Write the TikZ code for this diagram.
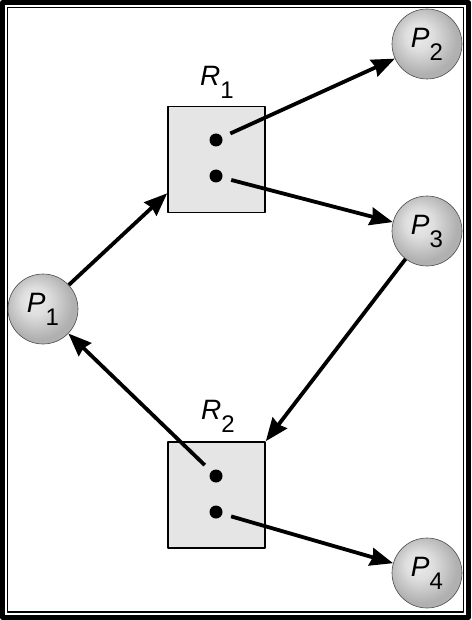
\documentclass[tikz,border=0pt]{standalone}
\usepackage{fontspec}
\setmainfont{Liberation Sans}
\usetikzlibrary{arrows.meta}
\pgfdeclareradialshading{procball}{\pgfpoint{-7bp}{7bp}}{color(0bp)=(gray!14); color(10bp)=(gray!26); color(25bp)=(gray!62); color(50bp)=(gray!62)}
\newcommand{\lbl}[2]{{\fontsize{28}{28}\selectfont\itshape #1}\raisebox{-13pt}{\fontsize{24}{24}\selectfont #2}}
\begin{document}
\begin{tikzpicture}[x=1pt,y=-1pt,line join=round,>={Stealth[length=23pt,width=18pt,inset=2pt]}]
	\tikzset{proc/.style={circle,minimum size=70pt,inner sep=0pt,shading=procball,draw=black!70,line width=0.6pt},
		res/.style={rectangle,minimum width=97pt,minimum height=106pt,fill=black!10,draw,line width=1.6pt},
		dot/.style={circle,fill,inner sep=0pt,minimum size=13pt},
		arr/.style={->,line width=3.8pt}}
	\useasboundingbox (0,0) rectangle (471,620);
	% frame
	\draw[line width=5pt] (2.5,2.5) rectangle (468.5,617.5);
	\draw[line width=1.2pt] (7.5,7.5) rectangle (463.5,612);
	% processes
	\node[proc] (P1) at (43,309) {\lbl{P}{1}};
	\node[proc] (P2) at (427,44) {\lbl{P}{2}};
	\node[proc] (P3) at (427,231) {\lbl{P}{3}};
	\node[proc] (P4) at (427,573) {\lbl{P}{4}};
	% resources
	\node[res] (R1) at (216.5,159.5) {};
	\node[res] (R2) at (216.5,495) {};
	\node (R1lab) at (217,82) {\lbl{R}{1}};
	\node (R2lab) at (218,416) {\lbl{R}{2}};
	\foreach \r/\y in {R1/140,R2/476}
		\node[dot] (\r a) at (216,\y) {};
	\foreach \r/\y in {R1/176,R2/512}
		\node[dot] (\r b) at (216,\y) {};
	% edges
	\draw[arr] (P1) -- ([yshift=20pt]R1.south west);
	\draw[arr,shorten <=9pt] (R1a) -- (P2);
	\draw[arr,shorten <=9pt] (R1b) -- (P3);
	\draw[arr] (P3) -- (R2.north east);
	\draw[arr,shorten <=9pt] (R2a) -- (P1);
	\draw[arr,shorten <=9pt] (R2b) -- (P4);
\end{tikzpicture}
\end{document}
